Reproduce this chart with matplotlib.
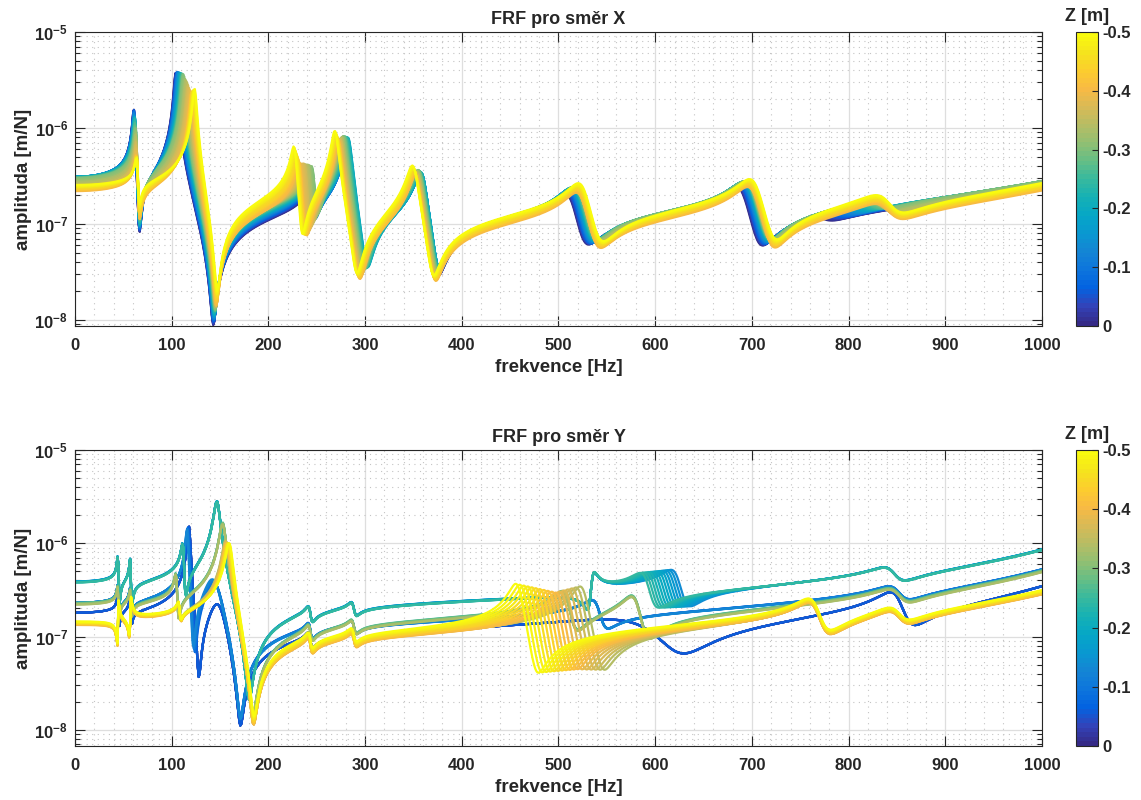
import numpy as np
import matplotlib
matplotlib.use('Agg')
import matplotlib.pyplot as plt
from matplotlib.colors import LinearSegmentedColormap, Normalize
from matplotlib.cm import ScalarMappable
from matplotlib.ticker import MultipleLocator, LogLocator, NullFormatter

plt.rcParams['font.family'] = ['Liberation Sans', 'DejaVu Sans']
plt.rcParams['font.weight'] = 'bold'
plt.rcParams['mathtext.fontset'] = 'custom'
plt.rcParams['mathtext.rm'] = 'Liberation Sans:bold'
plt.rcParams['mathtext.bf'] = 'Liberation Sans:bold'
plt.rcParams['mathtext.it'] = 'Liberation Sans:bold'

TXT = '#262626'

# parula (MATLAB), every 4th entry of the 64-colour table
PARULA = [
    (0.2081, 0.1663, 0.5292), (0.1959, 0.2645, 0.7279), (0.0117, 0.3875, 0.8820),
    (0.0498, 0.4586, 0.8641), (0.0793, 0.5200, 0.8312), (0.0343, 0.5966, 0.8199),
    (0.0228, 0.6535, 0.7768), (0.0843, 0.6928, 0.7062), (0.2178, 0.7250, 0.6193),
    (0.3953, 0.7459, 0.5244), (0.5709, 0.7485, 0.4494), (0.7184, 0.7411, 0.3905),
    (0.8507, 0.7299, 0.3360), (0.9739, 0.7314, 0.2666), (0.9880, 0.8066, 0.1794),
    (0.9589, 0.8949, 0.1132), (0.9763, 0.9831, 0.0538),
]
parula_r = LinearSegmentedColormap.from_list('parula_r', PARULA[::-1], N=64)
norm = Normalize(vmin=-0.5, vmax=0.0)

freq = np.arange(0, 1001, 1.0)
z_curves = np.round(np.arange(0, -0.501, -0.01), 2)

# Each FRF: static gain * prod(zero terms) / prod(pole terms).
# Rows = resonance (pole) / antiresonance (zero) pairs, columns = Z anchors.
# A pair set to 5000/5000 is outside the band and has no effect.
OFF = 5000

# ---- směr X ----
ZX = [0.0, -0.1, -0.2, -0.3, -0.4, -0.5]
GAIN_X = [3.0e-7, 3.1e-7, 3.1e-7, 3.0e-7, 2.2e-7, 2.55e-7]
POLES_X = [
    [61.0, 61.5, 62.0, 63.0, 64.0, 64.5],
    [104, 106, 109, 112, 120, 124],
    [242, 244, 246, 246, 233, 227],
    [280, 282, 283, 278, 273, 269],
    [357, 359, 359, 356, 353, 350],
    [512, 515, 518, 521, 523, 525],
    [689, 693, 696, 698, 701, 703],
    [772, 790, 810, 828, 838, 838],
    [1230, 1230, 1230, 1230, 1230, 1230],
]
ZEROS_X = [
    [66.5, 66.5, 66.5, 66.5, 66.3, 66.0],
    [143, 143.5, 144, 145, 146, 147],
    [244, 247, 249, 250, 239, 234.5],
    [296, 299, 302, 298, 294, 291],
    [375, 376, 376, 374, 372, 370],
    [526, 530, 533, 536, 539, 542],
    [707, 711, 714, 716, 720, 722],
    [775, 793, 813, 832, 846, 847],
]
DAMP_POLES_X = [0.02, 0.015, 0.012, 0.012, 0.015, 0.02, 0.017, 0.02, 0.02]
DAMP_ZEROS_X = [0.02, 0.015, 0.012, 0.015, 0.015, 0.02, 0.015, 0.02]

# ---- směr Y ----
ZY = [0.0, -0.06, -0.07, -0.13, -0.14, -0.25, -0.26, -0.33, -0.34, -0.40, -0.50]
GAIN_Y = [1.8e-7, 1.8e-7, 2.3e-7, 2.3e-7, 3.9e-7, 3.8e-7, 2.3e-7, 2.2e-7, 1.4e-7, 1.33e-7, 1.45e-7]
POLES_Y = [
    [44.8] * 11,
    [57.5] * 11,
    [118, 118, 117, 116, 112, 112, 105, 105, 108, 108, 108],
    [OFF, OFF, OFF, OFF, 147, 147, 153, 153, 156, 157, 160],
    [149, 149, 146, 144, OFF, OFF, OFF, OFF, OFF, OFF, OFF],
    [243] * 11,
    [288] * 11,
    [OFF, OFF, 540, 540, OFF, OFF, 508, 508, 525, 500, 458],
    [OFF, OFF, OFF, OFF, 535, 535, OFF, OFF, OFF, OFF, OFF],
    [OFF, OFF, OFF, OFF, 622, 590, 580, 580, 765, 765, 765],
    [600, 600, OFF, OFF, OFF, OFF, OFF, OFF, OFF, OFF, OFF],
    [850, 850, 850, 850, 845, 845, 850, 850, 850, 850, 850],
    [1150, 1150, 1150, 1150, 1150, 1150, 1150, 1150, 1180, 1180, 1180],
]
ZEROS_Y = [
    [45.3, 45.3, 45.3, 45.3, 45.6, 45.6, 45.3, 45.3, 44.2, 44.2, 44.2],
    [58.0, 58.0, 58.0, 58.0, 58.4, 58.4, 58.0, 58.0, 56.8, 56.8, 56.8],
    [128, 128, 124, 122, 114, 114, 106.5, 106.5, 108.6, 108.6, 108.6],
    [OFF, OFF, OFF, OFF, 180, 180, 184, 184, 184.5, 184.5, 185],
    [171, 171, 171, 171, OFF, OFF, OFF, OFF, OFF, OFF, OFF],
    [244] * 11,
    [289] * 11,
    [OFF, OFF, 546, 546, OFF, OFF, 516, 516, 545, 517, 477],
    [OFF, OFF, OFF, OFF, 532, 532, OFF, OFF, OFF, OFF, OFF],
    [OFF, OFF, OFF, OFF, 631, 598, 590, 590, 775, 775, 775],
    [625, 625, OFF, OFF, OFF, OFF, OFF, OFF, OFF, OFF, OFF],
    [862, 862, 855, 855, 850, 850, 855, 855, 855, 855, 855],
]
DAMP_POLES_Y = [0.012, 0.012, 0.012, 0.02, 0.06, 0.01, 0.01, 0.015, 0.006,
                0.015, 0.08, 0.015, 0.02]
DAMP_ZEROS_Y = [0.012, 0.012, 0.012, 0.015, 0.015, 0.01, 0.01, 0.015, 0.006,
                0.015, 0.04, 0.015]


def at_z(z, anchors, row):
    return np.interp(-z, -np.asarray(anchors, float), np.asarray(row, float))


def frf(z, anchors, gain, poles, zeros, dp, dz):
    h = np.full(freq.shape, at_z(z, anchors, gain), dtype=complex)
    for row, d in zip(poles, dp):
        fp = at_z(z, anchors, row)
        h /= 1 - (freq / fp) ** 2 + 2j * d * freq / fp
    for row, d in zip(zeros, dz):
        fz = at_z(z, anchors, row)
        h *= 1 - (freq / fz) ** 2 + 2j * d * freq / fz
    return np.abs(h)


def panel(ax, cax, title, ylow, anchors, gain, poles, zeros, dp, dz):
    for z in z_curves:
        ax.plot(freq, frf(z, anchors, gain, poles, zeros, dp, dz),
                color=parula_r(norm(z)), lw=1.6)
    ax.set_yscale('log')
    ax.set_xlim(0, 1000)
    ax.set_ylim(ylow, 1e-5)
    ax.xaxis.set_major_locator(MultipleLocator(100))
    ax.xaxis.set_minor_locator(MultipleLocator(20))
    ax.yaxis.set_major_locator(LogLocator(base=10))
    ax.yaxis.set_minor_locator(LogLocator(base=10, subs=np.arange(2, 10)))
    ax.yaxis.set_minor_formatter(NullFormatter())
    ax.set_axisbelow(True)
    ax.grid(True, which='major', color='#dedede', lw=0.9, ls='-')
    ax.grid(True, which='minor', color='#c4c4c4', lw=0.8, ls=(0, (1, 4)))
    ax.tick_params(which='both', direction='in', top=True, right=True,
                   colors=TXT, labelsize=12, width=0.8)
    ax.tick_params(which='major', length=7)
    ax.tick_params(which='minor', length=3.5)
    ax.tick_params(axis='x', which='minor', length=0)
    ax.tick_params(axis='x', pad=9)
    ax.tick_params(axis='y', pad=5)
    for s in ax.spines.values():
        s.set_color(TXT)
        s.set_linewidth(0.8)
    ax.set_title(title, fontsize=13, fontweight='bold', color=TXT, pad=6)
    ax.set_xlabel('frekvence [Hz]', fontsize=13.5, fontweight='bold', color=TXT, labelpad=4)
    ax.set_ylabel('amplituda [m/N]', fontsize=13.5, fontweight='bold', color=TXT, labelpad=2)

    sm = ScalarMappable(norm=norm, cmap=parula_r)
    cb = plt.colorbar(sm, cax=cax)
    cb.set_ticks([-0.5, -0.4, -0.3, -0.2, -0.1, 0.0])
    cb.set_ticklabels(['-0.5', '-0.4', '-0.3', '-0.2', '-0.1', '0'])
    cax.invert_yaxis()
    cax.tick_params(direction='in', length=4, colors=TXT, labelsize=12, width=0.8)
    cb.outline.set_edgecolor(TXT)
    cb.outline.set_linewidth(0.8)
    cax.text(0.5, 1.025, 'Z [m]', transform=cax.transAxes, ha='center', va='bottom',
             fontsize=13, fontweight='bold', color=TXT)


fig = plt.figure(figsize=(11.41, 8.0), dpi=100)
ax1 = fig.add_axes([0.0657, 0.5925, 0.8475, 0.3675])
cax1 = fig.add_axes([0.943, 0.5925, 0.0193, 0.3675])
ax2 = fig.add_axes([0.0657, 0.0675, 0.8475, 0.37])
cax2 = fig.add_axes([0.943, 0.0675, 0.0193, 0.37])

panel(ax1, cax1, 'FRF pro směr X', 8.66e-9, ZX, GAIN_X, POLES_X, ZEROS_X,
      DAMP_POLES_X, DAMP_ZEROS_X)
panel(ax2, cax2, 'FRF pro směr Y', 6.7e-9, ZY, GAIN_Y, POLES_Y, ZEROS_Y,
      DAMP_POLES_Y, DAMP_ZEROS_Y)

fig.savefig('out.png', dpi=100)
